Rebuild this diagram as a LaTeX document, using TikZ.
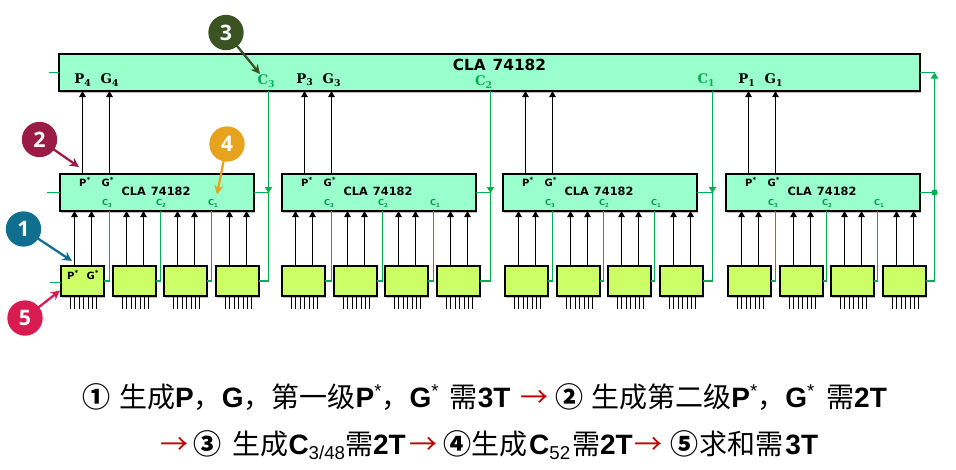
\documentclass[tikz,border=0pt]{standalone}
\usepackage{fontspec}
\setmainfont{Liberation Sans}
\newfontfamily\cjk{Noto Sans CJK SC}
\newfontfamily\opsans{Open Sans}
\newfontfamily\djsans{DejaVu Sans}
\newfontfamily\djserif{DejaVu Serif}
\usetikzlibrary{shadows,arrows.meta}
\definecolor{gl}{HTML}{00B050}
\definecolor{topc}{HTML}{99FFCC}
\definecolor{smc}{HTML}{CCFF66}
\definecolor{bOne}{HTML}{106F8F}
\definecolor{bTwo}{HTML}{9B1B47}
\definecolor{bThree}{HTML}{3B5323}
\definecolor{bFour}{HTML}{E8A31E}
\definecolor{bFive}{HTML}{D81B50}
\definecolor{redarr}{HTML}{C00000}
\newcommand{\rar}{{\color{redarr}\cjk\mdseries →}}
\newcommand{\zh}[1]{{\cjk\mdseries #1}}
\newcommand{\zc}[1]{{\cjk\bfseries #1}}
\newcommand{\stt}{\raisebox{7.5pt}{\fontsize{14}{14}\selectfont\mdseries *}}
\newcommand{\sbb}[1]{\raisebox{-4pt}{\fontsize{14}{14}\selectfont\mdseries #1}}
\tikzset{
  x=0.75pt,y=-0.75pt,
  boxbase/.style={draw=black,line width=1.7pt,inner sep=0pt,outer sep=0pt,
    drop shadow={shadow xshift=1pt,shadow yshift=-1.2pt,opacity=.25,fill=black}},
  topbox/.style={boxbase,fill=topc,minimum width=861*0.75pt,minimum height=37*0.75pt},
  midbox/.style={boxbase,fill=topc,minimum width=194*0.75pt,minimum height=37*0.75pt},
  smallbox/.style={boxbase,fill=smc,minimum width=43*0.75pt,minimum height=30*0.75pt},
  arr/.style={draw=black,line width=0.8pt,-{Triangle[length=4.6pt,width=5pt]}},
  tick/.style={draw=black,line width=0.7pt},
  gline/.style={draw=gl,line width=0.8pt},
  garr/.style={gline,-{Triangle[length=4.5pt,width=5.5pt]}},
  toplab/.style={font=\djserif\bfseries\fontsize{10}{11}\selectfont,inner sep=0pt},
  starlab/.style={font=\djsans\bfseries\fontsize{7.5}{8}\selectfont,inner sep=0pt},
  clab/.style={font=\djsans\bfseries\fontsize{6.2}{7}\selectfont,text=gl!90!black,inner sep=0pt},
  clatop/.style={font=\djsans\bfseries\fontsize{11.5}{12}\selectfont,inner sep=0pt},
  clamid/.style={font=\djsans\bfseries\fontsize{8.5}{10}\selectfont,inner sep=0pt},
  badge/.style={circle,minimum size=26.5pt,inner sep=0pt,text=white,font=\opsans\bfseries\fontsize{16}{17}\selectfont},
  barr/.style={line width=1.7pt,-{Stealth[length=7pt,width=7pt]},shorten <=-1pt},
  capt/.style={anchor=base west,inner sep=0pt,font=\bfseries\fontsize{21}{24}\selectfont},
}
\begin{document}
\begin{tikzpicture}
\useasboundingbox (0,0) rectangle (956,469);
\path[fill=white] (0,0) rectangle (956,469);
% top box
\node[topbox] (top) at (489.5,72.5) {};
% mid boxes and small boxes
\foreach \g/\ml/\sl in {1/60/61,2/282/282,3/503/505,4/726/728}{
  \node[midbox,anchor=north west] (m\g) at (\ml,174) {};
  \foreach \k/\d in {1/0,2/52,3/103,4/155}{
    \node[smallbox,anchor=north west] (s\g\k) at (\sl+\d,266) {};
    \foreach \t in {0,...,6}{
      \coordinate (t\g\k\t) at ([shift={(9.5+4.4*\t,0)}]s\g\k.south west);
      \draw[tick] (t\g\k\t) -- ++(0,13);
    }
    \coordinate (pa\g\k) at ([shift={(13.5,0)}]s\g\k.north west);
    \coordinate (pb\g\k) at ([shift={(30.5,0)}]s\g\k.north west);
    \draw[arr] (pa\g\k) -- (pa\g\k |- m\g.south);
    \draw[arr] (pb\g\k) -- (pb\g\k |- m\g.south);
  }
  % up to top box
  \coordinate (ua\g) at ([shift={(22.5,0)}]m\g.north west);
  \coordinate (ub\g) at ([shift={(49.5,0)}]m\g.north west);
  \draw[arr] (ua\g) -- (ua\g |- top.south);
  \draw[arr] (ub\g) -- (ub\g |- top.south);
  % internal carries
  \draw[gline] ([shift={(49.5,0)}]m\g.south west) |- (s\g1.east);
  \draw[gline] ([shift={(100.5,0)}]m\g.south west) |- (s\g2.east);
  \draw[gline] ([shift={(151.5,0)}]m\g.south west) |- (s\g3.east);
  % labels in mid box
  \node[clamid] (cla\g) at ([shift={(96,17)}]m\g.north west) {CLA\hspace{0.45em}74182};
  \node[starlab] (mp\g) at ([shift={(25,7.5)}]m\g.north west) {P\textsuperscript{*}};
  \node[starlab] (mg\g) at ([shift={(48,7.5)}]m\g.north west) {G\textsuperscript{*}};
  \node[clab] (c3\g) at ([shift={(47,29.5)}]m\g.north west) {C\raisebox{-1pt}{\fontsize{4}{4}\selectfont 3}};
  \node[clab] (c2\g) at ([shift={(101,29.5)}]m\g.north west) {C\raisebox{-1pt}{\fontsize{4}{4}\selectfont 2}};
  \node[clab] (c1\g) at ([shift={(153,29.5)}]m\g.north west) {C\raisebox{-1pt}{\fontsize{4}{4}\selectfont 1}};
}
% vertical carries from top box
\foreach \g/\vx in {1/268.5,2/490.5,3/712.5}{
  \coordinate (vt\g) at (\vx,91);
  \coordinate (va\g) at (\vx,193);
  \draw[garr] (vt\g) -- (va\g);
  \draw[gline] (va\g) |- (s\g4.east);
  \draw[gline] (m\g.east) -- (m\g.east -| va\g);
}
% far right feedback
\coordinate (rb) at (934.5,281);
\coordinate (rt) at (934.5,72.5);
\draw[gline] (s44.east) -- (rb);
\draw[garr] (rb) -- (rt);
\draw[gline] (top.east) -- (rt);
\coordinate (rd) at (934.5,192.5);
\draw[gline] (m4.east) -- (rd);
\fill[gl] (rd) circle (2.4pt);
% left stubs
\coordinate (l1) at (49,72.5);
\coordinate (l2) at (47,192.5);
\coordinate (l3) at (50,282.5);
\draw[gline] (l1) -- (top.west);
\draw[gline] (l2) -- (m1.west);
\draw[gline] (l3) -- (l3 -| s11.west);
% labels on top box
\node[clatop] (clat) at (499.5,65) {CLA\hspace{0.45em}74182};
\foreach \n/\x/\txt in {tp4/83/P\textsubscript{4},tg4/110/G\textsubscript{4},tp3/305/P\textsubscript{3},tg3/332/G\textsubscript{3},tp1/747/P\textsubscript{1},tg1/774/G\textsubscript{1}}{
  \node[toplab] (\n) at (\x,80) {\txt};
}
\foreach \n/\x/\y/\txt in {tc3/266.5/81/C\textsubscript{3},tc2/484/82/C\textsubscript{2},tc1/706.5/80/C\textsubscript{1}}{
  \node[toplab,text=gl] (\n) at (\x,\y) {\txt};
}
% labels on first small box
\node[starlab] (sp) at (73,275) {P\textsuperscript{*}};
\node[starlab] (sg) at (93,275) {G\textsuperscript{*}};
% badges
\node[badge,fill=bOne] (b1) at (23.5,229) {1};
\node[badge,fill=bTwo] (b2) at (39.5,139.5) {2};
\node[badge,fill=bThree] (b3) at (226,32.5) {3};
\node[badge,fill=bFour] (b4) at (227,144) {4};
\node[badge,fill=bFive] (b5) at (25,318) {5};
\coordinate (e1) at (72,261);
\coordinate (e2) at (79,167);
\coordinate (e3) at (260,74);
\coordinate (e4) at (217,194.5);
\coordinate (e5) at (60,290.5);
\draw[barr,bOne] (b1) -- (e1);
\draw[barr,bTwo] (b2) -- (e2);
\draw[barr,bThree] (b3) -- (e3);
\draw[barr,bFour] (b4) -- (e4);
\draw[barr,bFive] (b5) -- (e5);
% captions
\node[capt] (line1) at (82,407) {\zc{①}\hspace{0.32em}\zh{生成}P\zh{，}G\zh{，第一级}P\stt\zh{，}G\stt\hspace{0.4em}\zh{需}3T\hspace{0.35em}\rar\hspace{0.24em}\zc{②}\hspace{0.3em}\zh{生成第二级}P\stt\zh{，}G\stt\hspace{0.42em}\zh{需}2T};
\node[capt] (line2) at (160,454) {\rar\hspace{0.2em}\zc{③}\hspace{0.38em}\zh{生成}C\sbb{3/48}\zh{需}2T\hspace{0.14em}\rar\hspace{0.2em}\zc{④}\zh{生成}\hspace{0.07em}C\sbb{52}\hspace{0.07em}\zh{需}2T\hspace{0.07em}\rar\hspace{0.27em}\zc{⑤}\hspace{0.04em}\zh{求和需}\hspace{0.07em}3T};
\end{tikzpicture}
\end{document}
